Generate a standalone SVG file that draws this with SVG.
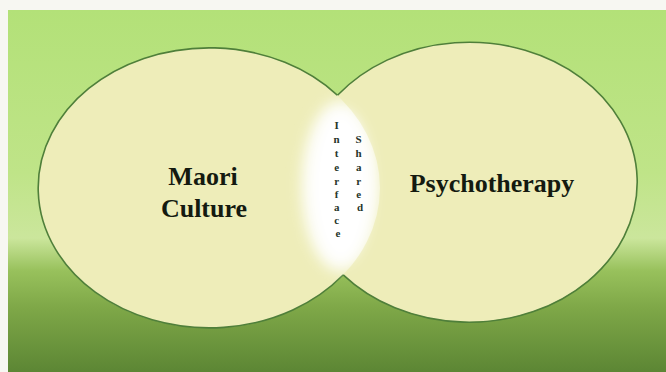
<svg xmlns="http://www.w3.org/2000/svg" width="666" height="372" viewBox="0 0 666 372">
<defs>
<linearGradient id="bg" x1="0" y1="0" x2="0" y2="1">
<stop offset="0" stop-color="#b3e178"/>
<stop offset="0.45" stop-color="#bfe488"/>
<stop offset="0.63" stop-color="#cbe69c"/>
<stop offset="0.72" stop-color="#98c15c"/>
<stop offset="0.82" stop-color="#7fa848"/>
<stop offset="1" stop-color="#5c8634"/>
</linearGradient>
<filter id="blur" x="-50%" y="-50%" width="200%" height="200%">
<feGaussianBlur stdDeviation="7"/>
</filter>
<clipPath id="lens">
<ellipse cx="209" cy="188" rx="171" ry="140"/>
</clipPath>
<style>
.set{fill:#eeedb9;}
.edge{fill:none;stroke:#4f7f3a;stroke-width:1.6;}
.lbl{font-family:"Liberation Serif","Times New Roman",serif;font-weight:bold;font-size:26px;fill:#141a10;text-anchor:middle;}
.vt{font-family:"Liberation Serif","Times New Roman",serif;font-weight:bold;font-size:11px;fill:#26352a;text-anchor:middle;}
</style>
</defs>
<rect x="0" y="0" width="666" height="372" fill="#f7f7f2"/>
<rect x="8" y="10" width="658" height="362" fill="url(#bg)"/>
<g id="maori-culture">
<ellipse class="set" cx="209" cy="188" rx="171" ry="140"/>
<path class="edge" d="M337.5 95.3 A171 140 0 1 0 343.2 274.8"/>
</g>
<g id="psychotherapy">
<ellipse class="set" cx="469" cy="182" rx="168" ry="140"/>
<path class="edge" d="M337.5 95.3 A168 140 0 1 1 343.2 274.8"/>
</g>
<g id="overlap">
<g clip-path="url(#lens)">
<ellipse cx="341" cy="186" rx="40" ry="86" fill="#fbfbf0" filter="url(#blur)"/>
</g>
<ellipse cx="341" cy="186" rx="30" ry="76" fill="#ffffff" filter="url(#blur)"/>
<ellipse cx="341" cy="186" rx="22" ry="66" fill="#ffffff" filter="url(#blur)"/>
<text class="vt">
<tspan x="338" y="129">I</tspan>
<tspan x="338" y="143">n</tspan>
<tspan x="338" y="157">t</tspan>
<tspan x="338" y="171">e</tspan>
<tspan x="338" y="185">r</tspan>
<tspan x="338" y="198">f</tspan>
<tspan x="338" y="211">a</tspan>
<tspan x="338" y="224">c</tspan>
<tspan x="338" y="237">e</tspan>
</text>
<text class="vt">
<tspan x="360" y="143">S</tspan>
<tspan x="360" y="157">h</tspan>
<tspan x="360" y="171">a</tspan>
<tspan x="360" y="185">r</tspan>
<tspan x="360" y="198">e</tspan>
<tspan x="360" y="211">d</tspan>
</text>
</g>
<g id="labels">
<text class="lbl" x="203" y="185">Maori</text>
<text class="lbl" x="204" y="217">Culture</text>
<text class="lbl" x="492" y="192">Psychotherapy</text>
</g>
</svg>
